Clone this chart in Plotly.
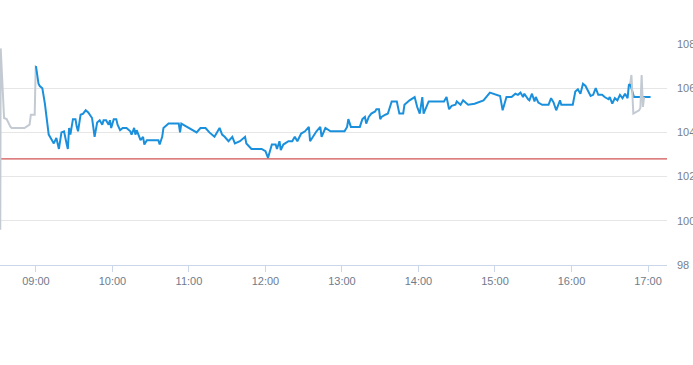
import plotly.graph_objects as go

DAY = "2024-01-02 "

pre_times = ["08:32:00", "08:32:20", "08:35:00", "08:37:00", "08:40:00", "08:41:00", "08:51:00",
             "08:55:00", "08:56:00", "08:59:00", "08:59:50", "09:00:00"]
pre_values = [99.6, 107.8, 104.65, 104.6, 104.25, 104.2, 104.2, 104.35, 104.8, 104.8, 107.0, 107.0]

main_times = [
    "09:00", "09:02", "09:03", "09:05", "09:07", "09:09", "09:10", "09:12", "09:14", "09:16",
    "09:17", "09:18", "09:20", "09:22", "09:24", "09:25", "09:26", "09:27", "09:29", "09:31",
    "09:32", "09:33", "09:35", "09:37", "09:39", "09:41", "09:44", "09:45", "09:46", "09:48",
    "09:50", "09:52", "09:53", "09:55", "09:57", "09:58", "09:59", "10:01", "10:03", "10:04",
    "10:06", "10:08", "10:11", "10:14", "10:15", "10:17", "10:18", "10:19", "10:22", "10:24",
    "10:25", "10:27", "10:36", "10:37", "10:39", "10:40", "10:44", "10:52", "10:53", "10:54",
    "10:57", "11:02", "11:06", "11:09", "11:13", "11:16", "11:20", "11:24", "11:26", "11:28",
    "11:31", "11:34", "11:36", "11:40", "11:44", "11:45", "11:49", "11:57", "12:00", "12:02",
    "12:05", "12:08", "12:09", "12:11", "12:12", "12:14", "12:18", "12:21", "12:23", "12:25",
    "12:28", "12:31", "12:34", "12:35", "12:37", "12:40", "12:43", "12:44", "12:47", "12:51",
    "12:53", "13:02", "13:04", "13:05", "13:07", "13:14", "13:16", "13:18", "13:19", "13:21",
    "13:23", "13:26", "13:27", "13:29", "13:30", "13:31", "13:34", "13:36", "13:39", "13:43",
    "13:45", "13:48", "13:49", "13:53", "13:57", "13:59", "14:01", "14:03", "14:04", "14:06",
    "14:08", "14:20", "14:22", "14:24", "14:26", "14:29", "14:30", "14:33", "14:35", "14:38",
    "14:39", "14:44", "14:51", "14:56", "15:01", "15:04", "15:06", "15:09", "15:13", "15:16",
    "15:18", "15:20", "15:22", "15:23", "15:26", "15:27", "15:29", "15:31", "15:32", "15:34",
    "15:37", "15:42", "15:44", "15:46", "15:48", "15:50", "15:51", "15:52", "16:01", "16:03",
    "16:05", "16:07", "16:09", "16:11", "16:13", "16:15", "16:17", "16:19", "16:21", "16:24",
    "16:26", "16:29", "16:30", "16:32", "16:34", "16:36", "16:38", "16:40", "16:42", "16:44",
    "16:45", "16:46", "16:49", "17:02",
]
main_values = [
    107.0, 106.2, 106.1, 106.0, 105.3, 104.4, 103.9, 103.7, 103.5, 103.75,
    103.5, 103.25, 104.0, 104.05, 103.5, 103.25, 104.2, 103.9, 104.6, 104.6,
    104.25, 104.05, 104.8, 104.85, 105.0, 104.9, 104.65, 104.1, 103.8, 104.45,
    104.55, 104.35, 104.55, 104.55, 104.35, 104.55, 104.2, 104.6, 104.6, 104.35,
    104.1, 104.2, 104.2, 104.05, 103.9, 104.2, 103.9, 104.1, 103.65, 103.8,
    103.45, 103.65, 103.65, 103.45, 103.8, 104.2, 104.4, 104.4, 104.0, 104.4,
    104.3, 104.1, 104.0, 104.2, 104.2, 104.0, 103.8, 104.2, 103.9, 103.8,
    103.6, 103.8, 103.5, 103.6, 103.8, 103.5, 103.25, 103.25, 103.15, 102.85,
    103.45, 103.45, 103.25, 103.6, 103.2, 103.45, 103.6, 103.6, 103.8, 103.6,
    103.95, 104.05, 104.25, 103.6, 103.8, 104.05, 104.25, 103.8, 104.2, 104.05,
    104.05, 104.05, 104.25, 104.6, 104.25, 104.25, 104.6, 104.7, 104.4, 104.7,
    104.85, 104.95, 105.05, 105.05, 104.6, 104.7, 104.8, 104.85, 105.4, 105.4,
    104.85, 104.85, 105.25, 105.45, 105.6, 105.15, 104.85, 105.6, 104.85, 105.15,
    105.4, 105.4, 105.6, 105.05, 105.2, 105.25, 105.4, 105.25, 105.45, 105.3,
    105.25, 105.3, 105.45, 105.8, 105.7, 105.65, 105.0, 105.6, 105.6, 105.75,
    105.7, 105.8, 105.6, 105.75, 105.5, 105.45, 105.75, 105.4, 105.6, 105.35,
    105.25, 105.25, 105.55, 105.35, 105.0, 105.3, 105.45, 105.25, 105.25, 105.85,
    105.95, 105.75, 106.2, 106.1, 105.85, 105.65, 105.7, 106.0, 105.7, 105.7,
    105.6, 105.5, 105.6, 105.3, 105.55, 105.45, 105.7, 105.55, 105.75, 105.55,
    106.15, 106.2, 105.6, 105.6,
]

post_times = ["16:46:00", "16:47:00", "16:48:30", "16:53:00", "16:54:00", "16:55:00", "16:56:00", "16:57:00"]
post_values = [106.2, 106.6, 104.85, 105.0, 105.1, 106.6, 105.15, 105.6]

prev_close = 102.8
y_ticks = [98, 100, 102, 104, 106, 108]
x_ticks = ["09:00", "10:00", "11:00", "12:00", "13:00", "14:00", "15:00", "16:00", "17:00"]
x_start = "08:31:48"
x_end = "17:14:54"


def ts(t):
    return DAY + (t if t.count(":") == 2 else t + ":00")


fig = go.Figure()
fig.add_trace(go.Scatter(x=[ts(t) for t in pre_times], y=pre_values, mode="lines",
                         line=dict(color="#c3cad2", width=2), hoverinfo="skip"))
fig.add_trace(go.Scatter(x=[ts(t) for t in main_times], y=main_values, mode="lines",
                         line=dict(color="#1a90dc", width=2)))
fig.add_trace(go.Scatter(x=[ts(t) for t in post_times], y=post_values, mode="lines",
                         line=dict(color="#c3cad2", width=2), hoverinfo="skip"))

fig.add_shape(type="line", xref="paper", x0=0, x1=1, yref="y", y0=prev_close, y1=prev_close,
              line=dict(color="#c62828", width=1), layer="below")

fig.update_layout(
    width=693, height=365,
    margin=dict(l=0, r=26, t=44, b=100, autoexpand=False),
    paper_bgcolor="white", plot_bgcolor="white",
    showlegend=False,
    font=dict(family="Liberation Sans, Arial, sans-serif"),
    xaxis=dict(
        type="date",
        automargin=False,
        range=[ts(x_start), ts(x_end)],
        tickvals=[ts(t) for t in x_ticks],
        ticktext=x_ticks,
        showgrid=False, zeroline=False,
        showline=True, linecolor="#ccd6eb", linewidth=1,
        ticks="outside", ticklen=6, tickcolor="#ccd6eb",
        tickfont=dict(size=11, color="#6f7b8b"),
    ),
    yaxis=dict(
        side="right",
        automargin=False,
        range=[98, 108],
        tickvals=y_ticks,
        ticktext=[str(v) for v in y_ticks],
        showgrid=True, gridcolor="#e6e6e6", gridwidth=1,
        zeroline=False, showline=False,
        ticks="", ticklabelstandoff=9,
        tickfont=dict(size=11, color="#777f8a"),
    ),
)

fig.write_html("out.html", config={"displayModeBar": False},
               post_script="document.body.style.margin='0px';document.body.style.overflow='hidden';")
